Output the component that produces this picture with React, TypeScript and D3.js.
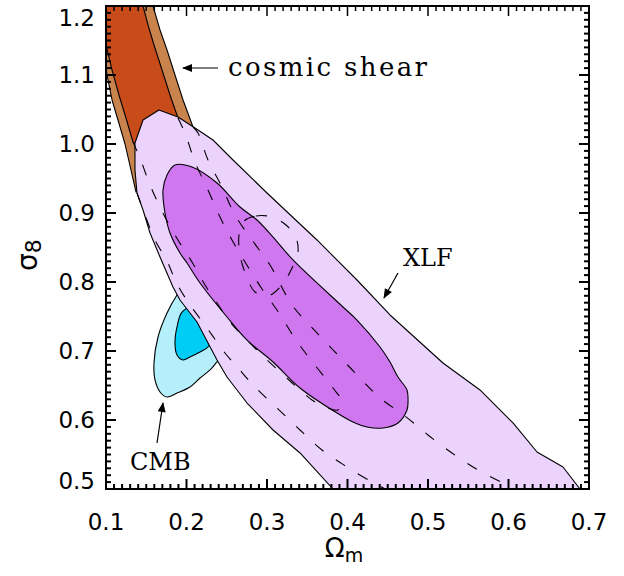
import React from "react";
import * as d3 from "d3";

type P = [number, number];

const xMajorTicks = [0.1, 0.2, 0.3, 0.4, 0.5, 0.6, 0.7];
const yMajorTicks = [0.5, 0.6, 0.7, 0.8, 0.9, 1.0, 1.1, 1.2];
const xTickLabels = ["0.1", "0.2", "0.3", "0.4", "0.5", "0.6", "0.7"];
const yTickLabels = ["0.5", "0.6", "0.7", "0.8", "0.9", "1.0", "1.1", "1.2"];

// Cosmic shear confidence band (outer = 95%, inner = 68%), in (Omega_m, sigma_8)
const shearOuter: P[] = [
  [0.0925, 1.223], [0.0963, 1.151], [0.1012, 1.1], [0.1075, 1.0638], [0.1149, 1.0348],
  [0.1236, 1.0], [0.1311, 0.9623], [0.1373, 0.9304], [0.1484, 0.9406], [0.1981, 1.0058],
  [0.2081, 1.0246], [0.1957, 1.0638], [0.1857, 1.1], [0.1758, 1.1362], [0.1671, 1.1652],
  [0.1584, 1.2], [0.1534, 1.223],
];
const shearInner: P[] = [
  [0.0925, 1.223], [0.0925, 1.151], [0.1, 1.1435], [0.1075, 1.1072], [0.1161, 1.071],
  [0.1248, 1.0377], [0.1335, 1.0029], [0.1547, 0.9696], [0.182, 1.0232], [0.1894, 1.0377],
  [0.1795, 1.071], [0.1696, 1.1072], [0.1596, 1.1435], [0.1522, 1.1725], [0.146, 1.2],
  [0.1435, 1.223],
];

// XLF contours
const xlfOuter: P[] = [
  [0.1658, 1.0493], [0.146, 1.0348], [0.136, 1.0014], [0.136, 0.9623], [0.1385, 0.929],
  [0.146, 0.9043], [0.1547, 0.871], [0.1671, 0.8362], [0.1832, 0.7928], [0.1919, 0.7739],
  [0.213, 0.742], [0.2379, 0.687], [0.2503, 0.6623], [0.2752, 0.6246], [0.3075, 0.5855],
  [0.341, 0.5522], [0.382, 0.5], [0.382, 0.4913], [0.695, 0.4913], [0.6888, 0.5],
  [0.6677, 0.5319], [0.6354, 0.5536], [0.6056, 0.5957], [0.5646, 0.6435], [0.5186, 0.6826],
  [0.4528, 0.7522], [0.4118, 0.8029], [0.3621, 0.8609], [0.3, 0.929], [0.2578, 0.9768],
  [0.2329, 1.0058], [0.2106, 1.0232], [0.1894, 1.0391],
];
const xlfInner: P[] = [
  [0.1857, 0.9696], [0.2068, 0.9667], [0.2379, 0.9435], [0.2665, 0.9087], [0.2876, 0.8899],
  [0.3075, 0.8652], [0.3323, 0.8319], [0.3944, 0.7638], [0.4118, 0.7449], [0.4404, 0.7058],
  [0.4528, 0.6841], [0.4627, 0.6623], [0.4739, 0.6435], [0.4752, 0.629], [0.4739, 0.6145],
  [0.4627, 0.5957], [0.4441, 0.5884], [0.4242, 0.5899], [0.4068, 0.5971], [0.387, 0.6101],
  [0.341, 0.6464], [0.3075, 0.6841], [0.2752, 0.7159], [0.2503, 0.7493], [0.2168, 0.7986],
  [0.2006, 0.8275], [0.1919, 0.842], [0.1795, 0.871], [0.1733, 0.9], [0.1708, 0.9333],
  [0.1758, 0.9551],
];

// CMB contours
const cmbOuter: P[] = [
  [0.1882, 0.7812], [0.1758, 0.7551], [0.1646, 0.7203], [0.1596, 0.6826], [0.1609, 0.658],
  [0.1671, 0.6406], [0.1758, 0.6333], [0.1882, 0.6391], [0.2043, 0.6478], [0.2168, 0.6609],
  [0.2292, 0.6725], [0.2379, 0.6841], [0.2565, 0.7087], [0.2354, 0.7478], [0.2106, 0.7812],
  [0.1957, 0.7928],
];
const cmbInner: P[] = [
  [0.1944, 0.7565], [0.1882, 0.7348], [0.1857, 0.7116], [0.1882, 0.6942], [0.1957, 0.687],
  [0.2043, 0.6913], [0.2168, 0.6986], [0.2267, 0.7058], [0.2342, 0.7232], [0.223, 0.7522],
  [0.2081, 0.7638],
];

// Dashed contours (cosmic shear continuation)
const dashOuterLeft: P[] = [
  [0.1385, 0.929], [0.1484, 0.8971], [0.1609, 0.8609], [0.177, 0.8275], [0.187, 0.8],
  [0.2019, 0.771], [0.2255, 0.7333], [0.2478, 0.6971], [0.264, 0.6754], [0.2851, 0.6478],
  [0.3124, 0.6174], [0.341, 0.5855], [0.3683, 0.5565], [0.3994, 0.5319], [0.4304, 0.5101],
  [0.4466, 0.5], [0.4602, 0.4899],
];
const dashOuterRight: P[] = [
  [0.2081, 1.0246], [0.2143, 1.0159], [0.2267, 0.9768], [0.2441, 0.9377], [0.2602, 0.8971],
  [0.2814, 0.8609], [0.3037, 0.8246], [0.3311, 0.7667], [0.3621, 0.7261], [0.3882, 0.6942],
  [0.4143, 0.6623], [0.4404, 0.6319], [0.4714, 0.6058], [0.5, 0.5783], [0.5298, 0.5522],
  [0.5621, 0.5275], [0.5932, 0.5087], [0.6143, 0.4957],
];
const dashInnerLoop: P[] = [
  [0.1894, 1.0377], [0.1981, 1.0159], [0.2106, 0.9739], [0.2267, 0.9333], [0.2416, 0.8942],
  [0.2565, 0.8609], [0.2727, 0.829], [0.2938, 0.7899], [0.3149, 0.7551], [0.336, 0.7159],
  [0.3584, 0.6812], [0.382, 0.6464], [0.3932, 0.6261], [0.3882, 0.6145], [0.372, 0.6188],
  [0.3559, 0.629], [0.3286, 0.6565], [0.2975, 0.6899], [0.2727, 0.7188], [0.254, 0.742],
  [0.2379, 0.7696], [0.223, 0.7957], [0.2068, 0.829], [0.1894, 0.8609], [0.172, 0.8971],
  [0.1547, 0.9406], [0.1422, 0.9797], [0.1335, 1.0029],
];
const dashCore: P[] = [
  [0.2702, 0.887], [0.2863, 0.8957], [0.3062, 0.8942], [0.3236, 0.8826], [0.336, 0.8638],
  [0.3385, 0.8435], [0.3311, 0.8203], [0.3186, 0.7957], [0.3012, 0.7797], [0.2851, 0.7855],
  [0.2739, 0.8101], [0.2665, 0.8391], [0.2652, 0.8681],
];

const L = 106, R = 589, T = 6, B = 489;

export default function App() {
  const x = d3.scaleLinear().domain([0.1, 0.7]).range([L, R]);
  const y = d3.scaleLinear().domain([0.5, 1.2]).range([B, T]);
  const lin = d3.line<P>().x(d => x(d[0])).y(d => y(d[1]));
  const closedLin = (pts: P[]) => lin(pts) + "Z";
  const smoothClosed = d3.line<P>().x(d => x(d[0])).y(d => y(d[1])).curve(d3.curveCatmullRomClosed.alpha(0.5));
  const smoothOpen = d3.line<P>().x(d => x(d[0])).y(d => y(d[1])).curve(d3.curveCatmullRom.alpha(0.5));

  const xMinor = d3.range(0, 61).map(i => 0.1 + i * 0.01);
  const yMinor = d3.range(0, 71).map(i => 0.5 + i * 0.01);
  const isMajor = (v: number) => Math.abs(v * 10 - Math.round(v * 10)) < 1e-6;

  const tickFont = "'DejaVu Sans', sans-serif";
  const serif = "'DejaVu Serif', serif";
  const dash = "11 15";

  // IDL keeps end labels inside the axis range
  const yLabelBaseline = (v: number) => {
    const py = y(v) + 8;
    return Math.min(Math.max(py, T + 20), B);
  };

  return (
    <svg width={624} height={576} style={{ position: "absolute", left: 0, top: 0, background: "#fff" }}>
      <defs>
        <clipPath id="plot">
          <rect x={L} y={T} width={R - L} height={B - T} />
        </clipPath>
        <marker id="ah" viewBox="0 0 10 10" refX="9" refY="5" markerWidth="11" markerHeight="10" orient="auto" markerUnits="userSpaceOnUse">
          <path d="M0,1 L10,5 L0,9 Z" fill="#000" />
        </marker>
      </defs>
      <rect x={0} y={0} width={624} height={576} fill="#fff" />
      <g clipPath="url(#plot)" stroke="#000" strokeWidth={1.1} strokeLinejoin="round">
        <path d={closedLin(shearOuter)} fill="#c9834c" />
        <path d={closedLin(shearInner)} fill="#c84b1a" />
        <path d={smoothClosed(cmbOuter) || ""} fill="#b5effc" />
        <path d={smoothClosed(cmbInner) || ""} fill="#00cdf6" />
        <path d={closedLin(xlfOuter)} fill="#ebd3fd" />
        <path d={smoothClosed(xlfInner) || ""} fill="#cf77ef" />
        <g fill="none" strokeDasharray={dash}>
          <path d={smoothOpen(dashOuterLeft) || ""} />
          <path d={smoothOpen(dashOuterRight) || ""} />
          <path d={smoothOpen(dashInnerLoop) || ""} />
          <path d={smoothClosed(dashCore) || ""} />
        </g>
      </g>
      {/* frame */}
      <rect x={L} y={T} width={R - L} height={B - T} fill="none" stroke="#000" strokeWidth={2} />
      {/* ticks */}
      <g stroke="#000">
        {xMinor.map((v, i) => {
          const len = isMajor(v) ? 10 : 5;
          const px = x(v);
          return (
            <g key={"xt" + i}>
              <line x1={px} x2={px} y1={B} y2={B - len} strokeWidth={2} />
              <line x1={px} x2={px} y1={T} y2={T + len} strokeWidth={1.5} />
            </g>
          );
        })}
        {yMinor.map((v, i) => {
          const len = isMajor(v) ? 10 : 5;
          const py = y(v);
          return (
            <g key={"yt" + i}>
              <line x1={L} x2={L + len} y1={py} y2={py} strokeWidth={2} />
              <line x1={R} x2={R - len} y1={py} y2={py} strokeWidth={2} />
            </g>
          );
        })}
      </g>
      {/* tick labels */}
      <g fontFamily={tickFont} fontSize={23} fill="#000">
        {xMajorTicks.map((v, i) => (
          <text key={"xl" + i} x={x(v)} y={530} textAnchor="middle">{xTickLabels[i]}</text>
        ))}
        {yMajorTicks.map((v, i) => (
          <text key={"yl" + i} x={95} y={yLabelBaseline(v)} textAnchor="end">{yTickLabels[i]}</text>
        ))}
      </g>
      {/* axis titles */}
      <text x={344} y={557} fontFamily={tickFont} fontSize={26} textAnchor="middle">
        Ω<tspan fontSize={19} dy={5}>m</tspan>
      </text>
      <text transform="translate(37,255) rotate(-90)" fontFamily={tickFont} fontSize={28} textAnchor="middle">
        σ<tspan fontSize={22} dy={4}>8</tspan>
      </text>
      {/* annotations */}
      <line x1={218} y1={68} x2={183} y2={68} stroke="#000" strokeWidth={1.2} markerEnd="url(#ah)" />
      <text x={228} y={76} fontFamily={serif} fontSize={26} textLength={199} lengthAdjust="spacing">cosmic shear</text>
      <line x1={398} y1={273} x2={384} y2={298} stroke="#000" strokeWidth={1.2} markerEnd="url(#ah)" />
      <text x={403} y={266} fontFamily={serif} fontSize={24}>XLF</text>
      <line x1={157} y1={443} x2={163} y2={403} stroke="#000" strokeWidth={1.2} markerEnd="url(#ah)" />
      <text x={130} y={470} fontFamily={serif} fontSize={24}>CMB</text>
    </svg>
  );
}
